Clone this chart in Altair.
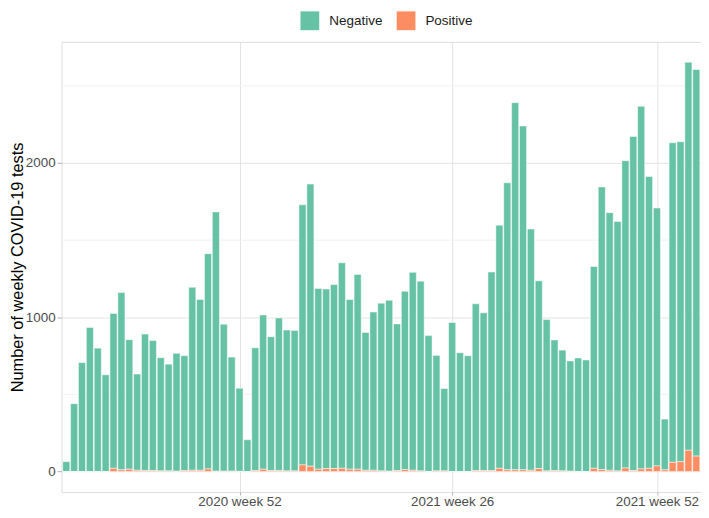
import altair as alt
import pandas as pd

# ---- data ----
week_labels = ([f"2020 week {w}" for w in range(30, 54)]
               + [f"2021 week {w}" for w in range(1, 53)]
               + [f"2022 week {w}" for w in range(1, 6)])

totals = [64, 440, 706, 934, 800, 627, 1025, 1160, 855, 632,
          891, 849, 738, 696, 766, 751, 1195, 1115, 1412, 1683,
          955, 742, 540, 206, 802, 1015, 874, 996, 917, 915,
          1729, 1863, 1187, 1183, 1212, 1353, 1115, 1278, 902, 1034,
          1091, 1110, 957, 1168, 1291, 1234, 881, 753, 538, 966,
          770, 751, 1087, 1029, 1293, 1597, 1872, 2391, 2240, 1572,
          1236, 985, 853, 787, 717, 736, 723, 1329, 1844, 1678,
          1621, 2015, 2172, 2368, 1913, 1708, 340, 2131, 2138, 2653, 2606]

positives = [0, 0, 0, 0, 0, 0, 21, 11, 15, 8,
             6, 6, 4, 4, 2, 6, 8, 8, 17, 2,
             2, 2, 1, 0, 6, 15, 6, 6, 4, 4,
             43, 34, 15, 19, 19, 21, 15, 15, 8, 8,
             4, 2, 6, 13, 8, 4, 0, 4, 4, 0,
             0, 0, 6, 6, 6, 21, 11, 11, 11, 8,
             19, 4, 6, 4, 2, 0, 0, 21, 13, 8,
             4, 23, 6, 17, 21, 36, 11, 60, 64, 138, 100]

results = ["Negative", "Positive"]
colors = ["#66C2A5", "#FC8D62"]
tick_labels = ["2020 week 52", "2021 week 26", "2021 week 52"]
y_major = [0, 1000, 2000]
y_minor = [500, 1500, 2500]

# ---- tables ----
rows = []
for i, (wk, tot, pos) in enumerate(zip(week_labels, totals, positives), start=1):
    rows.append({"idx": i, "week": wk, "result": "Negative", "n": tot - pos, "ord": 1})
    rows.append({"idx": i, "week": wk, "result": "Positive", "n": pos, "ord": 0})
df = pd.DataFrame(rows)
df["x0"] = df["idx"] - 0.45
df["x1"] = df["idx"] + 0.45

tick_pos = [week_labels.index(t) + 1 for t in tick_labels]
label_expr = " : ".join(
    f"datum.value == {p} ? '{t}'" for p, t in zip(tick_pos, tick_labels)
) + " : ''"

FONT = "Liberation Sans"
W, H = 645, 454
x_scale = alt.Scale(domain=[0.4, 81.6], nice=False, zero=False)
y_scale = alt.Scale(domain=[-132.5, 2785], nice=False, zero=False)

y_axis = alt.Axis(values=y_major, format="d",
                  title="Number of weekly COVID-19 tests",
                  titleFontSize=16.5, titleFontWeight="normal",
                  titleColor="#000000", titleFont=FONT,
                  titleBaseline="alphabetic", titleAngle=270,
                  titleX=-39.5, titleY=H / 2,
                  grid=True, gridColor="#E3E3E3", gridWidth=1,
                  domain=False, tickColor="#B3B3B3", tickSize=4.5,
                  labelPadding=2, labelFontSize=13.5, labelColor="#4D4D4D",
                  labelFont=FONT)

minor = alt.Chart(pd.DataFrame({"v": y_minor})).mark_rule(
    color="#F1F1F1", strokeWidth=1
).encode(y=alt.Y("v:Q", scale=y_scale, axis=y_axis))

bars = alt.Chart(df).transform_stack(
    stack="n", groupby=["idx"], as_=["y0", "y1"],
    sort=[alt.SortField("ord", order="ascending")]
).mark_bar(stroke="white", strokeWidth=0.5).encode(
    x=alt.X("x0:Q", scale=x_scale,
            axis=alt.Axis(values=tick_pos, labelExpr=label_expr, title=None,
                          grid=True, gridColor="#E3E3E3", gridWidth=1,
                          domain=False, tickColor="#B3B3B3", tickSize=3,
                          labelPadding=0, labelFontSize=13.5, labelColor="#4D4D4D",
                          labelFont=FONT, labelOverlap=False, labelFlush=False)),
    x2="x1:Q",
    y=alt.Y("y0:Q", scale=y_scale, axis=y_axis),
    y2="y1:Q",
    color=alt.Color("result:N",
                    scale=alt.Scale(domain=results, range=colors),
                    legend=alt.Legend(title=None, orient="none", direction="horizontal",
                                      legendX=240, legendY=-32,
                                      symbolType="square", symbolSize=400,
                                      symbolStrokeColor="white", symbolStrokeWidth=1,
                                      labelFontSize=13.6, labelColor="#1A1A1A",
                                      labelFont=FONT, labelOffset=9,
                                      columnPadding=11)),
)

chart = alt.layer(minor, bars).properties(
    width=W,
    height=H,
    padding={"left": 54, "top": 32, "right": 0, "bottom": 16},
    autosize=alt.AutoSizeParams(type="none"),
).configure_view(
    stroke="#C8C8C8", strokeWidth=1
).configure(font=FONT)

chart.save("out.html", embed_options={"renderer": "svg", "actions": False})
